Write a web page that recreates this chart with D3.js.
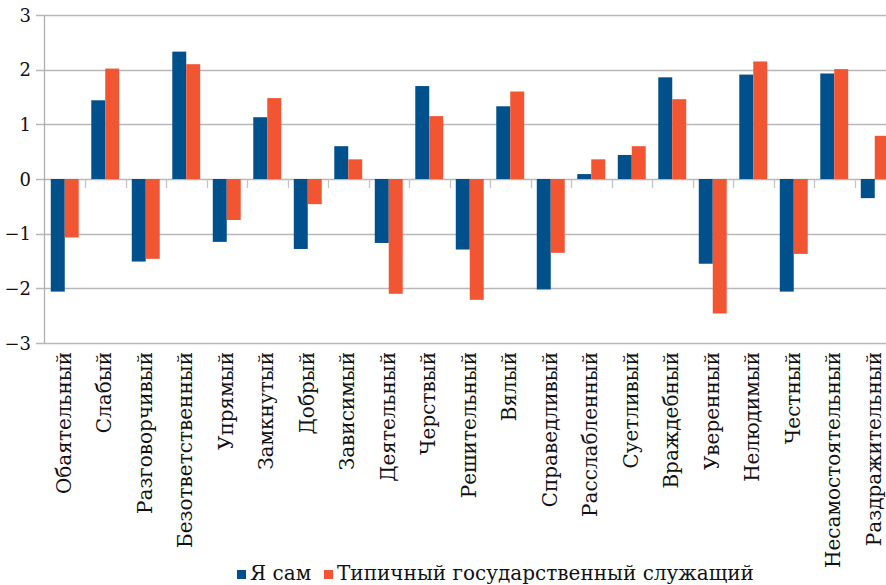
<!DOCTYPE html>
<html>
<head>
<meta charset="utf-8">
<script src="https://cdn.jsdelivr.net/npm/d3@7"></script>
<style>
  body { margin: 0; background: #fff; }
  svg { display: block; }
</style>
</head>
<body>
<div id="vis"></div>
<script>
// data
var categories = ['Обаятельный', 'Слабый', 'Разговорчивый', 'Безответственный', 'Упрямый',
  'Замкнутый', 'Добрый', 'Зависимый', 'Деятельный', 'Черствый', 'Решительный', 'Вялый',
  'Справедливый', 'Расслабленный', 'Суетливый', 'Враждебный', 'Уверенный', 'Нелюдимый',
  'Честный', 'Несамостоятельный', 'Раздражительный'];
var selfValues = [-2.06, 1.44, -1.51, 2.33, -1.15, 1.13, -1.28, 0.60, -1.17, 1.70, -1.29,
  1.33, -2.02, 0.09, 0.44, 1.86, -1.55, 1.91, -2.06, 1.93, -0.35];
var typicalValues = [-1.07, 2.02, -1.46, 2.10, -0.75, 1.48, -0.46, 0.36, -2.10, 1.15, -2.21,
  1.60, -1.35, 0.36, 0.60, 1.46, -2.46, 2.15, -1.37, 2.01, 0.79];
var seriesNames = ['Я сам', 'Типичный государственный служащий'];
var yTicks = [-3, -2, -1, 0, 1, 2, 3];

var width = 886;
var height = 585;
var colors = ['#00508c', '#f15532'];
var font = '"DejaVu Serif", serif';

var svg = d3.select('#vis').append('svg')
  .attr('width', width)
  .attr('height', height)
  .attr('font-family', font);

// plot runs off the right edge like in the original
var x = d3.scaleBand()
  .domain(categories)
  .range([44.5, 44.5 + 40.5 * categories.length])
  .padding(0);

var y = d3.scaleLinear()
  .domain([-3, 3])
  .range([343, 15]);

var barW = x.bandwidth() * 0.345;
var barOff = (x.bandwidth() - 2 * barW) / 2;

// gridlines
svg.append('g')
  .selectAll('line')
  .data(yTicks)
  .enter().append('line')
  .attr('x1', 36)
  .attr('x2', width)
  .attr('y1', function (d) { return Math.round(y(d)) + 0.5; })
  .attr('y2', function (d) { return Math.round(y(d)) + 0.5; })
  .attr('stroke', '#b8b8b8')
  .attr('stroke-width', 1.3);

// left axis line
svg.append('line')
  .attr('x1', 44.5).attr('x2', 44.5)
  .attr('y1', y(3)).attr('y2', y(-3))
  .attr('stroke', '#b0b0b0')
  .attr('stroke-width', 1.3);

// y tick labels
svg.append('g')
  .selectAll('text')
  .data(yTicks)
  .enter().append('text')
  .attr('x', 31)
  .attr('y', function (d) { return y(d) + 6.5; })
  .attr('text-anchor', 'end')
  .attr('fill', '#111')
  .style('font-size', '18px')
  .text(function (d) { return d < 0 ? '\u2212' + Math.abs(d) : String(d); });

// bars
var groups = svg.append('g')
  .selectAll('g')
  .data(categories)
  .enter().append('g');

[selfValues, typicalValues].forEach(function (vals, s) {
  groups.append('rect')
    .attr('x', function (d) { return x(d) + barOff + s * barW; })
    .attr('width', barW)
    .attr('y', function (d, i) { return y(Math.max(0, vals[i])); })
    .attr('height', function (d, i) { return Math.abs(y(vals[i]) - y(0)); })
    .attr('fill', colors[s]);
});

// category ticks under the zero line
svg.append('g')
  .selectAll('line')
  .data(categories.slice(1))
  .enter().append('line')
  .attr('x1', function (d) { return Math.round(x(d)) + 0.5; })
  .attr('x2', function (d) { return Math.round(x(d)) + 0.5; })
  .attr('y1', y(0))
  .attr('y2', y(0) + 9)
  .attr('stroke', '#c4c4c4')
  .attr('stroke-width', 1.3);

// category labels, rotated
svg.append('g')
  .selectAll('text')
  .data(categories)
  .enter().append('text')
  .attr('transform', function (d) {
    return 'translate(' + (x(d) + x.bandwidth() / 2 + 6) + ',352) rotate(-90)';
  })
  .attr('text-anchor', 'end')
  .attr('fill', '#111')
  .style('font-size', '20px')
  .text(function (d) { return d; });

// legend
var legend = svg.append('g').attr('transform', 'translate(237,580)');
var lx = [0, 87];
seriesNames.forEach(function (name, s) {
  legend.append('rect')
    .attr('x', lx[s]).attr('y', -10)
    .attr('width', 9).attr('height', 9)
    .attr('fill', colors[s]);
  legend.append('text')
    .attr('x', lx[s] + 13).attr('y', 0)
    .attr('fill', '#111')
    .style('font-size', '20px')
    .text(name);
});
</script>
</body>
</html>
